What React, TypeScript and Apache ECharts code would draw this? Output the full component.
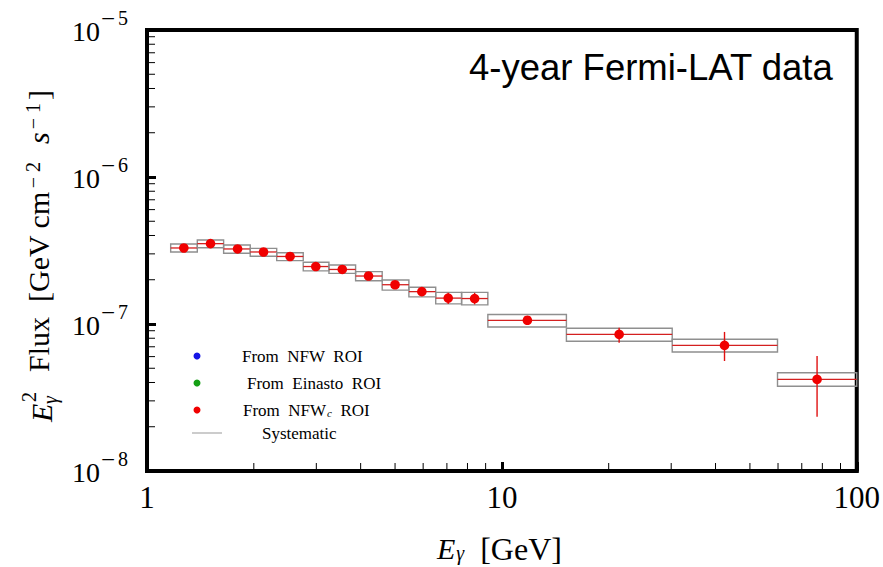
import React, { useEffect, useRef } from "react";
import * as echarts from "echarts";

// Energy bins (GeV)
const binLo = [1.166, 1.386, 1.644, 1.954, 2.32, 2.756, 3.256, 3.871, 4.6, 5.47, 6.51, 7.7, 9.13, 15.2, 30.2, 59.8];
const binHi = [1.386, 1.644, 1.954, 2.32, 2.756, 3.256, 3.871, 4.6, 5.47, 6.51, 7.7, 9.13, 15.2, 30.2, 59.8, 100];
const energy = [1.27, 1.51, 1.8, 2.13, 2.53, 2.99, 3.55, 4.21, 5.0, 5.95, 7.06, 8.38, 11.8, 21.4, 42.4, 77.3];
// E^2 flux (GeV cm^-2 s^-1)
const flux = [3.29e-7, 3.52e-7, 3.24e-7, 3.09e-7, 2.88e-7, 2.46e-7, 2.35e-7, 2.12e-7, 1.85e-7, 1.66e-7, 1.5e-7, 1.49e-7, 1.06e-7, 8.5e-8, 7.15e-8, 4.2e-8];
const fluxErrLo = [3.2e-7, 3.43e-7, 3.15e-7, 3.0e-7, 2.79e-7, 2.38e-7, 2.27e-7, 2.04e-7, 1.77e-7, 1.58e-7, 1.37e-7, 1.36e-7, 1.0e-7, 7.46e-8, 5.6e-8, 2.34e-8];
const fluxErrHi = [3.38e-7, 3.61e-7, 3.33e-7, 3.18e-7, 2.97e-7, 2.54e-7, 2.43e-7, 2.2e-7, 1.93e-7, 1.74e-7, 1.63e-7, 1.63e-7, 1.12e-7, 9.44e-8, 8.83e-8, 6.05e-8];
const sysLo = [3.09e-7, 3.3e-7, 3.03e-7, 2.89e-7, 2.7e-7, 2.3e-7, 2.21e-7, 1.97e-7, 1.7e-7, 1.53e-7, 1.37e-7, 1.35e-7, 9.54e-8, 7.63e-8, 6.45e-8, 3.77e-8];
const sysHi = [3.5e-7, 3.73e-7, 3.45e-7, 3.27e-7, 3.05e-7, 2.63e-7, 2.52e-7, 2.27e-7, 1.99e-7, 1.78e-7, 1.64e-7, 1.64e-7, 1.16e-7, 9.35e-8, 7.87e-8, 4.66e-8];

// y tick label exponents (10^e)
const yTickExponents = [-8, -7, -6, -5];
// minor tick mantissas
const minorMantissas = [2, 3, 4, 5, 6, 7, 8, 9];
const yDecades = [-8, -7, -6];
const xDecades = [0, 1];

const SERIF = "'Liberation Serif', 'Times New Roman', Times, serif";
const SANS = "'Liberation Sans', Arial, sans-serif";

export default function App() {
  const ref = useRef<HTMLDivElement>(null);
  useEffect(() => {
    const chart = echarts.init(ref.current!, null, { renderer: "svg" });

    const dataRows = energy.map((e, i) => [binLo[i], binHi[i], e, flux[i], fluxErrLo[i], fluxErrHi[i], sysLo[i], sysHi[i]]);
    const tickRows: number[][] = [];
    yDecades.forEach((d) => minorMantissas.forEach((m) => tickRows.push([0, m * Math.pow(10, d)])));
    xDecades.forEach((d) => minorMantissas.forEach((m) => tickRows.push([1, m * Math.pow(10, d)])));
    const yLabelRows = yTickExponents.map((e) => [e, Math.pow(10, e)]);

    const labRich = {
      n: { fontFamily: SERIF, fontSize: 30, lineHeight: 30, color: "#000", verticalAlign: "bottom" },
      i: { fontFamily: SERIF, fontSize: 30, lineHeight: 30, color: "#000", fontStyle: "italic", verticalAlign: "bottom" },
      sup: { fontFamily: SERIF, fontSize: 20, lineHeight: 20, color: "#000", verticalAlign: "top", padding: [0, 3, 16, 3] },
    };

    const option: any = {
      animation: false,
      backgroundColor: "#fff",
      textStyle: { fontFamily: SERIF },
      grid: { left: 147, right: 26, top: 30, bottom: 96, show: true, borderColor: "#000", borderWidth: 4, backgroundColor: "transparent" },
      xAxis: {
        type: "log",
        logBase: 10,
        min: 1,
        max: 100,
        axisLine: { show: true, lineStyle: { color: "#000", width: 4 } },
        axisTick: { show: true, inside: true, length: 9, lineStyle: { color: "#000", width: 3 } },
        axisLabel: { fontFamily: SERIF, fontSize: 31, color: "#000", margin: 11 },
        splitLine: { show: false },
      },
      yAxis: {
        type: "log",
        logBase: 10,
        min: 1e-8,
        max: 1e-5,
        axisLine: { show: true, lineStyle: { color: "#000", width: 4 } },
        axisTick: { show: true, inside: true, length: 9, lineStyle: { color: "#000", width: 3 } },
        axisLabel: { show: false },
        splitLine: { show: false },
      },
      series: [
        {
          type: "custom",
          data: tickRows,
          silent: true,
          renderItem: (params: any, api: any) => {
            const which = api.value(0);
            const v = api.value(1);
            if (which === 0) {
              const p = api.coord([1, v]);
              return { type: "line", shape: { x1: p[0], y1: p[1], x2: p[0] + 8, y2: p[1] }, style: { stroke: "#000", lineWidth: 1 } };
            }
            const p = api.coord([v, 1e-8]);
            return { type: "line", shape: { x1: p[0], y1: p[1], x2: p[0], y2: p[1] - 8 }, style: { stroke: "#000", lineWidth: 1 } };
          },
        },
        {
          // y tick labels 10^e, placed through the y scale
          type: "custom",
          data: yLabelRows,
          silent: true,
          renderItem: (params: any, api: any) => {
            const e = api.value(0);
            const v = api.value(1);
            const p = api.coord([1, v]);
            const x0 = p[0];
            const y0 = p[1];
            return {
              type: "group",
              children: [
                { type: "text", x: x0 - 47, y: y0 + 1, style: { text: "10", fontFamily: SERIF, fontSize: 28, fill: "#000", align: "right", verticalAlign: "middle" } },
                { type: "text", x: x0 - 46, y: y0 - 12, style: { text: "−", fontFamily: SERIF, fontSize: 25, fill: "#000", align: "left", verticalAlign: "middle" } },
                { type: "text", x: x0 - 29, y: y0 - 12, style: { text: String(Math.abs(e)), fontFamily: SERIF, fontSize: 20, fill: "#000", align: "left", verticalAlign: "middle" } },
              ],
            };
          },
        },
        {
          type: "custom",
          data: dataRows,
          silent: true,
          renderItem: (params: any, api: any) => {
            const lo = api.value(0), hi = api.value(1), e = api.value(2), f = api.value(3);
            const eLo = api.value(4), eHi = api.value(5), sLo = api.value(6), sHi = api.value(7);
            const a = api.coord([lo, sHi]);
            const b = api.coord([hi, sLo]);
            const l1 = api.coord([lo, f]);
            const l2 = api.coord([hi, f]);
            const v1 = api.coord([e, eLo]);
            const v2 = api.coord([e, eHi]);
            const c = api.coord([e, f]);
            return {
              type: "group",
              children: [
                { type: "rect", shape: { x: a[0], y: a[1], width: b[0] - a[0], height: b[1] - a[1] }, style: { fill: "none", stroke: "#8f8f8f", lineWidth: 1.4 } },
                { type: "line", shape: { x1: l1[0], y1: l1[1], x2: l2[0], y2: l2[1] }, style: { stroke: "#d42020", lineWidth: 1.3 } },
                { type: "line", shape: { x1: v1[0], y1: v1[1], x2: v2[0], y2: v2[1] }, style: { stroke: "#e01010", lineWidth: 1.4 } },
                { type: "circle", shape: { cx: c[0], cy: c[1], r: 4.8 }, style: { fill: "#f00000" } },
              ],
            };
          },
        },
      ],
      graphic: [
        {
          type: "text",
          left: 469,
          top: 49,
          style: { text: "4-year Fermi-LAT data", fontFamily: SANS, fontSize: 36.5, fill: "#000" },
        },
        // legend
        { type: "circle", shape: { cx: 197, cy: 356, r: 3.5 }, style: { fill: "#1414e6" } },
        { type: "circle", shape: { cx: 197, cy: 383, r: 3.5 }, style: { fill: "#14a014" } },
        { type: "circle", shape: { cx: 197, cy: 410, r: 3.5 }, style: { fill: "#f00000" } },
        { type: "line", shape: { x1: 192, y1: 433, x2: 222, y2: 433 }, style: { stroke: "#999", lineWidth: 1 } },
        { type: "text", x: 242, y: 356, style: { text: "From  NFW  ROI", fontFamily: SERIF, fontSize: 17, fill: "#000", verticalAlign: "middle" } },
        { type: "text", x: 247, y: 383, style: { text: "From  Einasto  ROI", fontFamily: SERIF, fontSize: 17, fill: "#000", verticalAlign: "middle" } },
        {
          type: "text",
          x: 243,
          y: 410,
          style: {
            text: "{n|From  NFW}{c|c}{n|  ROI}",
            verticalAlign: "middle",
            rich: {
              n: { fontFamily: SERIF, fontSize: 17, lineHeight: 17, fill: "#000", verticalAlign: "top" },
              c: { fontFamily: SERIF, fontSize: 11, lineHeight: 11, fill: "#000", fontStyle: "italic", verticalAlign: "bottom", padding: [8, 0, 0, 1] },
            },
          },
        },
        { type: "text", x: 262, y: 433, style: { text: "Systematic", fontFamily: SERIF, fontSize: 17, fill: "#000", verticalAlign: "middle" } },
        // x axis name
        {
          type: "text",
          x: 437,
          y: 548,
          style: {
            text: "{i|E}{g|γ}{n|  [GeV]}",
            verticalAlign: "middle",
            rich: {
              i: { fontFamily: SERIF, fontSize: 30, lineHeight: 30, fill: "#000", fontStyle: "italic", verticalAlign: "top" },
              g: { fontFamily: SERIF, fontSize: 20, lineHeight: 20, fill: "#000", fontStyle: "italic", verticalAlign: "bottom", padding: [12, 0, 0, 1] },
              n: { fontFamily: SERIF, fontSize: 32, lineHeight: 30, fill: "#000", verticalAlign: "top" },
            },
          },
        },
        // y axis name (rotated)
        {
          type: "group",
          x: 41,
          y: 422,
          rotation: Math.PI / 2,
          children: [
            { type: "text", x: 0, y: 0, style: { text: "E", fontFamily: SERIF, fontSize: 30, fontStyle: "italic", fill: "#000", verticalAlign: "middle" } },
            { type: "text", x: 20, y: -12, style: { text: "2", fontFamily: SERIF, fontSize: 20, fill: "#000", verticalAlign: "middle" } },
            { type: "text", x: 18, y: 9, style: { text: "γ", fontFamily: SERIF, fontSize: 20, fontStyle: "italic", fill: "#000", verticalAlign: "middle" } },
            {
              type: "text",
              x: 50,
              y: -3,
              style: {
                text: "{n|Flux  [GeV cm}{sup|− 2}{n|  }{i|s}{sup|− 1}{n|]}",
                verticalAlign: "middle",
                rich: labRich,
              },
            },
          ],
        },
      ],
    };
    chart.setOption(option);
    return () => chart.dispose();
  }, []);
  return <div ref={ref} style={{ position: "fixed", left: 0, top: 0, width: 883, height: 567, background: "#fff" }} />;
}
